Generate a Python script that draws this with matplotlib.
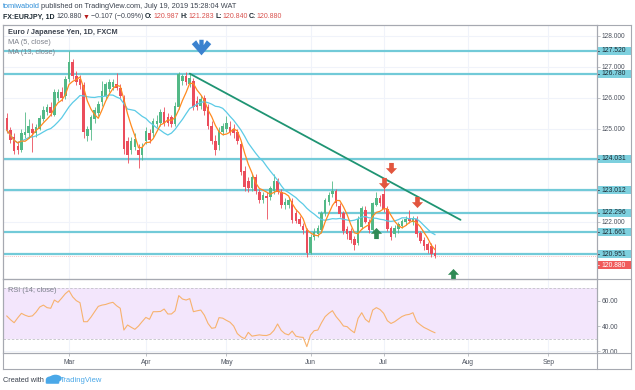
import matplotlib
matplotlib.use('Agg')
import matplotlib.pyplot as plt
import numpy as np
import pandas as pd
from matplotlib.path import Path
from matplotlib.patches import Rectangle, Circle, FancyBboxPatch
from matplotlib.lines import Line2D
from matplotlib.transforms import blended_transform_factory, ScaledTranslation

W, H = 635, 390
FONT = ['Liberation Sans', 'DejaVu Sans']

# daily candles, EUR/JPY (FXCM), 2019-02-06 .. 2019-07-19
opens = [125.35, 124.95, 124.75, 124.45, 124.30, 124.80, 124.85, 125.00, 124.85, 125.00,
         125.30, 125.55, 125.70, 125.45, 126.00, 126.20, 126.05, 126.60, 127.15, 126.70,
         126.60, 126.40, 124.78, 124.95, 125.30, 125.50, 125.85, 126.05, 126.30, 126.35,
         126.46, 126.33, 126.00, 124.60, 124.30, 124.40, 124.30, 124.15, 124.62, 124.85,
         124.85, 125.16, 125.20, 125.53, 125.37, 125.37, 125.16, 125.70, 126.55, 126.70,
         126.45, 126.54, 125.90, 125.75, 126.00, 125.69, 125.10, 124.60, 124.46, 124.90,
         125.00, 125.05, 125.00, 124.90, 124.50, 123.65, 123.30, 123.10, 123.45, 122.95,
         122.70, 122.82, 122.80, 123.00, 123.30, 122.97, 122.54, 122.55, 122.68, 122.28,
         122.08, 121.85, 121.74, 121.00, 121.50, 121.60, 121.74, 122.27, 122.65, 122.90,
         122.98, 122.50, 122.27, 121.75, 121.70, 121.45, 121.30, 121.84, 122.38, 122.00,
         121.74, 122.55, 122.75, 122.90, 122.40, 121.79, 121.60, 121.75, 121.85, 121.98,
         122.12, 122.00, 122.10, 121.62, 121.42, 121.28, 121.20, 120.987]
highs = [125.50, 125.05, 124.85, 124.60, 125.00, 125.53, 125.30, 125.20, 125.15, 125.45,
         125.75, 125.80, 125.85, 126.30, 126.30, 126.35, 126.70, 127.50, 127.25, 126.85,
         126.75, 126.50, 125.10, 125.45, 125.70, 125.90, 126.55, 126.50, 126.60, 126.62,
         126.80, 126.45, 126.10, 124.75, 124.75, 124.85, 124.50, 124.55, 125.05, 125.00,
         125.35, 125.45, 125.65, 125.70, 125.50, 125.45, 125.85, 126.82, 126.78, 126.82,
         126.80, 126.65, 126.05, 126.10, 126.10, 125.80, 125.25, 124.80, 125.05, 125.20,
         125.40, 125.25, 125.15, 125.00, 124.60, 123.80, 123.45, 123.55, 123.55, 123.05,
         122.95, 122.95, 123.15, 123.55, 123.40, 123.05, 122.75, 122.80, 122.75, 122.40,
         122.20, 121.95, 121.80, 121.60, 121.80, 121.90, 122.35, 122.75, 122.95, 123.32,
         123.05, 122.60, 122.35, 121.85, 121.80, 121.55, 122.20, 122.50, 122.50, 122.10,
         122.65, 122.95, 122.85, 123.23, 122.50, 121.85, 121.90, 122.00, 122.10, 122.20,
         122.38, 122.20, 122.20, 121.70, 121.50, 121.35, 121.30, 121.283]
lows = [124.85, 124.55, 124.20, 124.20, 124.25, 124.70, 124.70, 124.25, 124.75, 124.95,
        125.25, 125.45, 125.40, 125.40, 125.90, 125.90, 125.95, 126.50, 126.60, 126.40,
        126.30, 124.70, 124.60, 124.65, 125.20, 125.40, 125.75, 125.95, 126.20, 126.25,
        126.25, 125.95, 124.20, 123.88, 124.20, 124.30, 123.72, 124.00, 124.50, 124.55,
        124.75, 125.05, 125.10, 125.10, 125.10, 125.05, 125.10, 125.65, 126.40, 126.40,
        126.35, 125.60, 125.60, 125.65, 125.45, 125.00, 124.50, 124.15, 124.30, 124.80,
        124.90, 124.80, 124.70, 124.50, 123.50, 123.00, 122.95, 123.00, 122.90, 122.60,
        122.60, 122.10, 122.70, 122.90, 122.90, 122.45, 122.40, 122.45, 121.95, 121.95,
        121.85, 121.60, 120.85, 120.95, 121.40, 121.50, 121.65, 122.20, 122.55, 122.80,
        122.50, 122.15, 121.60, 121.45, 121.30, 121.10, 121.25, 121.75, 121.95, 121.65,
        121.70, 122.50, 122.50, 122.30, 121.70, 121.42, 121.50, 121.65, 121.80, 121.90,
        121.95, 121.90, 121.50, 121.30, 121.10, 121.00, 120.85, 120.840]
closes = [124.95, 124.65, 124.28, 124.30, 124.85, 124.90, 125.10, 124.85, 125.05, 125.35,
          125.60, 125.70, 125.50, 126.20, 126.20, 126.00, 126.60, 127.15, 126.70, 126.50,
          126.40, 124.90, 125.00, 125.37, 125.62, 125.80, 126.22, 126.44, 126.50, 126.52,
          126.33, 126.06, 124.35, 124.15, 124.62, 124.68, 124.14, 124.40, 124.94, 124.65,
          125.26, 125.26, 125.53, 125.20, 125.20, 125.16, 125.74, 126.76, 126.70, 126.50,
          126.65, 125.69, 125.70, 125.96, 125.58, 125.10, 124.60, 124.30, 124.94, 125.10,
          125.20, 124.90, 124.85, 124.60, 123.60, 123.13, 123.10, 123.45, 123.00, 122.70,
          122.85, 122.78, 123.10, 123.30, 122.97, 122.54, 122.65, 122.70, 122.06, 122.03,
          121.92, 121.74, 120.99, 121.52, 121.68, 121.80, 122.27, 122.70, 122.86, 123.00,
          122.60, 122.25, 121.70, 121.60, 121.40, 121.25, 122.10, 122.43, 122.00, 121.74,
          122.59, 122.75, 122.60, 122.40, 121.75, 121.52, 121.80, 121.92, 122.02, 122.10,
          122.02, 122.10, 121.60, 121.38, 121.20, 121.10, 120.95, 120.880]
rsi = [47.9, 45.0, 42.6, 46.5, 50.0, 48.5, 47.5, 48.0, 51.0, 55.0,
       56.5, 54.5, 54.0, 60.5, 58.7, 62.0, 65.5, 67.9, 63.0, 60.0,
       58.4, 43.4, 43.4, 47.0, 51.3, 55.5, 56.5, 57.0, 58.0, 58.7,
       56.0, 54.0, 36.8, 40.8, 39.0, 37.4, 40.0, 43.5, 46.8, 45.3,
       51.3, 51.3, 51.5, 53.4, 49.5, 49.5, 52.0, 64.0, 61.3, 60.5,
       61.6, 51.3, 52.0, 52.6, 48.5, 42.0, 38.2, 38.7, 46.6, 46.2,
       44.5, 43.0, 40.0, 34.0, 31.5, 30.0, 35.0, 32.0, 32.5, 33.0,
       32.6, 32.5, 33.5, 36.5, 41.6, 36.5, 34.0, 33.0, 36.0, 32.0,
       31.3, 31.0, 23.7, 32.9, 36.3, 36.8, 42.5, 47.4, 50.0, 52.1,
       47.4, 44.0, 40.0, 39.5, 36.8, 34.7, 46.0, 50.5, 45.3, 43.0,
       52.6, 54.5, 53.0, 50.0, 44.2, 42.0, 43.4, 45.5, 47.5, 48.7,
       49.2, 50.5, 43.4, 41.0, 38.9, 37.5, 36.0, 34.7]

levels = [127.520, 126.780, 124.031, 123.012, 122.296, 121.661, 120.951]
level_from = [None, None, None, None, '2019-06-05', None, None]
trend_dates = ['2019-04-17', '2019-07-30']
trend_prices = [126.78, 122.06]
# drawn arrow marks: (date, price, kind)
marks = [('2019-04-22', 127.57, 'blue'), ('2019-07-03', 123.74, 'red'),
         ('2019-07-01', 123.24, 'red'), ('2019-07-12', 122.64, 'red'),
         ('2019-06-27', 121.65, 'green'), ('2019-07-26', 120.32, 'green')]
last_price = 120.880
month_names = ['Mar', 'Apr', 'May', 'Jun', 'Jul', 'Aug', 'Sep']

UP, DOWN = '#53b987', '#eb4d5c'
LEVEL_C = '#72cad8'
GRID_C = '#f0f3fa'
BORDER_C = '#a6a9b1'
LABEL_C = '#4c525e'

days = pd.bdate_range('2019-02-06', '2019-09-30')
n = len(closes)
idx = np.arange(n)


def day_pos(d):
    return int(days.searchsorted(pd.Timestamp(d)))


month_pos = [day_pos(f'2019-{m:02d}-01') for m in range(3, 10)]

fig = plt.figure(figsize=(W / 100, H / 100), dpi=100)
fig.patch.set_facecolor('white')


def fx(x):
    return x / W


def fy(y):
    return 1 - y / H


ax = fig.add_axes([fx(3), fy(279), (597 - 3) / W, (279 - 25) / H])
axr = fig.add_axes([fx(3), fy(353), (597 - 3) / W, (353 - 279) / H], sharex=ax)

xlim = (-1.04, 161.3)
ylim = (120.15, 128.35)
ax.set_xlim(*xlim)
ax.set_ylim(*ylim)
axr.set_ylim(18.7, 77.1)

# grid
for a in (ax, axr):
    for p in month_pos:
        a.axvline(p, color=GRID_C, lw=0.8, zorder=0)
for v in range(121, 129):
    ax.axhline(v, color=GRID_C, lw=0.8, zorder=0)
for v in (20, 40, 60):
    axr.axhline(v, color=GRID_C, lw=0.8, zorder=0)

# horizontal levels
for lv, start in zip(levels, level_from):
    x0 = xlim[0] if start is None else day_pos(start)
    ax.plot([x0, xlim[1]], [lv, lv], color=LEVEL_C, lw=1.6, zorder=1,
            solid_capstyle='butt')
ax.axhline(last_price, color='#f4a7a7', lw=0.6, ls=(0, (1, 1.5)), zorder=1)

# candles
o, h, l, c = map(np.array, (opens, highs, lows, closes))
col = np.where(c >= o, UP, DOWN)
ax.vlines(idx, l, h, colors=col, lw=0.6, zorder=3)
body = np.maximum(np.abs(c - o), 0.02)
ax.bar(idx, body, bottom=np.minimum(o, c), width=0.7, color=col,
       linewidth=0, zorder=3)

# moving averages
cs = pd.Series(closes)
ax.plot(idx, cs.rolling(13, min_periods=1).mean(), color='#5ccbe6', lw=0.9, zorder=4)
ax.plot(idx, cs.rolling(5, min_periods=1).mean(), color='#ff8a1f', lw=0.9, zorder=4)

# trend line
ax.plot([day_pos(d) for d in trend_dates], trend_prices, color='#1f9473',
        lw=1.3, zorder=5, solid_capstyle='round')

# arrow marks
down_arrow = Path([(-0.42, 1.0), (0.42, 1.0), (0.42, 0.05), (1.0, 0.05), (0.0, -1.0),
                   (-1.0, 0.05), (-0.42, 0.05), (-0.42, 1.0)],
                  [Path.MOVETO] + [Path.LINETO] * 6 + [Path.CLOSEPOLY])
up_arrow = Path([(x, -y) for x, y in down_arrow.vertices], down_arrow.codes)
blue_arrow = Path([(-1.0, 0.55), (-0.55, 0.95), (-0.22, 0.45), (-0.22, 1.0), (0.22, 1.0),
                   (0.22, 0.45), (0.55, 0.95), (1.0, 0.55), (0.0, -0.6), (-1.0, 0.55)],
                  [Path.MOVETO] + [Path.LINETO] * 8 + [Path.CLOSEPOLY])
mark_style = {'blue': (blue_arrow, '#3b82cf', 14),
              'red': (down_arrow, '#e2553e', 8),
              'green': (up_arrow, '#2f8a55', 8)}
for d, p, kind in marks:
    shape, color, size = mark_style[kind]
    ax.plot(day_pos(d), p, marker=shape, color=color, ms=size, mew=0,
            ls='none', zorder=6, clip_on=False)

# RSI
axr.axhspan(30, 70, color='#f3e6fc', zorder=0, lw=0)
for v in (30, 70):
    axr.axhline(v, color='#c2c2c8', lw=0.6, ls=(0, (3, 2)), zorder=1)
axr.plot(idx, rsi, color='#f7b26e', lw=0.8, zorder=3)

# axes styling
for a in (ax, axr):
    for s in a.spines.values():
        s.set_color(BORDER_C)
        s.set_linewidth(0.8)
    a.set_facecolor('none')
    a.yaxis.tick_right()
    a.tick_params(axis='y', direction='out', length=2, width=0.5, color=BORDER_C,
                  labelsize=4.8, labelcolor=LABEL_C, pad=1.5)

ax.set_yticks([122, 125, 126, 127, 128])
ax.set_yticklabels([f'{v:.3f}' for v in (122, 125, 126, 127, 128)], family=FONT)
axr.set_yticks([20, 40, 60])
axr.set_yticklabels([f'{v:.2f}' for v in (20, 40, 60)], family=FONT)
ax.set_xticks(month_pos)
ax.tick_params(axis='x', length=0, labelbottom=False)
axr.set_xticks(month_pos)
axr.set_xticklabels(month_names, family=FONT)
axr.tick_params(axis='x', direction='out', length=2, width=0.5, color=BORDER_C,
                labelsize=4.9, labelcolor=LABEL_C, pad=2.5)

# price tags on the right scale
px_per_unit = (279 - 25) / (ylim[1] - ylim[0])
tag_tr = blended_transform_factory(fig.transFigure, ax.transData)


def price_tag(value, face, color, shift_px=0.0):
    tr = tag_tr + ScaledTranslation(0, -shift_px / 100, fig.dpi_scale_trans)
    hh = 8.0 / px_per_unit
    ax.add_patch(Rectangle((fx(597), value - hh / 2), fx(35), hh, transform=tr,
                           facecolor=face, edgecolor='none', clip_on=False, zorder=7))
    ax.text(fx(601), value, f'{value:.3f}', transform=tr, fontsize=4.9, color=color,
            va='center', ha='left', family=FONT, clip_on=False, zorder=8)
    ax.plot([fx(597), fx(599)], [value, value], transform=tr, color=color, lw=0.5,
            clip_on=False, zorder=8)


for lv in levels:
    price_tag(lv, '#7dd0de', '#1d2a33')
price_tag(last_price, '#f05a5a', 'white', shift_px=9)

# frame lines
frame = [((3, 631), (25, 25)), ((3, 631), (369, 369)), ((3, 3), (25, 369)),
         ((631, 631), (25, 369)), ((597, 597), (25, 369)),
         ((3, 631), (279, 279)), ((3, 631), (353, 353))]
for xs, ys in frame:
    fig.add_artist(Line2D([fx(v) for v in xs], [fy(v) for v in ys], color=BORDER_C,
                          lw=0.8))

# legend texts inside panes
ax.text(fx(8), fy(33), 'Euro / Japanese Yen, 1D, FXCM', transform=fig.transFigure,
        fontsize=5.3, color='#3d4450', va='center', family=FONT, fontweight='bold')
ax.text(fx(8), fy(43), 'MA (5, close)', transform=fig.transFigure,
        fontsize=5.3, color='#7d828c', va='center', family=FONT)
ax.text(fx(8), fy(53), 'MA (13, close)', transform=fig.transFigure,
        fontsize=5.3, color='#7d828c', va='center', family=FONT)
axr.text(fx(8), fy(291), 'RSI (14, close)', transform=fig.transFigure,
         fontsize=5.3, color='#7d828c', va='center', family=FONT)

# header and footer, written piece by piece
renderer = fig.canvas.get_renderer()


def text_run(x_px, y_px, pieces, size):
    x = x_px
    for s, color, weight, gap in pieces:
        t = fig.text(fx(x), fy(y_px), s, color=color, fontsize=size,
                     fontweight=weight, va='center', ha='left', family=FONT)
        x += t.get_window_extent(renderer=renderer).width + gap


text_run(3, 7, [('tomiwabold', '#2f8fd8', 'normal', 1.6),
                ('published on TradingView.com, July 19, 2019 15:28:04 WAT',
                 '#3d4450', 'normal', 0)], 5.3)
RED = '#d9534f'
text_run(3, 17, [('FX:EURJPY, 1D', '#1d2a33', 'bold', 2.0),
                 ('120.880', '#3d4450', 'normal', 1.2),
                 ('\u25bc', '#b71c1c', 'normal', 1.2),
                 ('\u22120.107 (\u22120.09%)', '#3d4450', 'normal', 1.6),
                 ('O:', '#1d2a33', 'bold', 0.4), ('120.987', RED, 'normal', 1.6),
                 ('H:', '#1d2a33', 'bold', 0.4), ('121.283', RED, 'normal', 1.6),
                 ('L:', '#1d2a33', 'bold', 0.4), ('120.840', RED, 'normal', 1.6),
                 ('C:', '#1d2a33', 'bold', 0.4), ('120.880', RED, 'normal', 0)], 5.0)

fig.text(fx(3), fy(380), 'Created with', fontsize=5.3, color='#3d4450',
         va='center', ha='left', family=FONT)
logo_c = '#4aa8e8'
fig.add_artist(FancyBboxPatch((fx(47), fy(383)), fx(11), 2.5 / H,
                              boxstyle='round,pad=0.002', transform=fig.transFigure,
                              facecolor=logo_c, edgecolor='none'))
fig.add_artist(Circle((fx(51), fy(379.5)), 3.2 / H, transform=fig.transFigure,
                      facecolor=logo_c, edgecolor='none'))
fig.add_artist(Circle((fx(55.5), fy(378.5)), 3.8 / H, transform=fig.transFigure,
                      facecolor=logo_c, edgecolor='none'))
fig.text(fx(60), fy(380), 'TradingView', fontsize=5.5, color='#4aa8e8',
         va='center', ha='left', family=FONT)

fig.savefig('out.png', dpi=100, facecolor='white')
